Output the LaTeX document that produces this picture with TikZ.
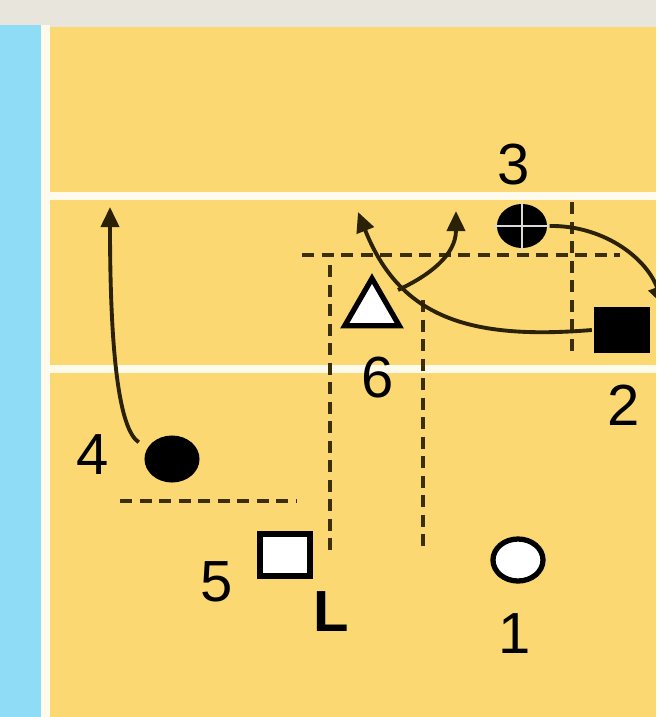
\documentclass[tikz,border=0pt]{standalone}
\usepackage{fontspec}
\setmainfont{Liberation Sans}
\usepackage{tikz}
\usetikzlibrary{arrows.meta}
\usetikzlibrary{shapes.geometric}
\definecolor{court}{HTML}{FBD872}
\definecolor{band}{HTML}{E8E6DC}
\definecolor{free}{HTML}{8FDCF7}
\definecolor{chalk}{HTML}{FFFBEC}
\definecolor{ink}{HTML}{2A2106}
\definecolor{zonecol}{HTML}{3B2F0A}

\begin{document}
\begin{tikzpicture}[x=0.01cm,y=-0.01cm,
		lbl/.style={inner sep=0pt,font=\fontsize{16.5}{18}\selectfont},
		move/.style={draw=ink,line width=1.1pt,-{Triangle[length=0.2cm,width=0.18cm]}},
		zone/.style={draw=zonecol,line width=1.4pt,dash pattern=on 0.12cm off 0.075cm},
		player/.style={inner sep=0pt,line width=1.5pt}]
			\useasboundingbox (0,0) rectangle (656,717);
			\clip (0,0) rectangle (656,717);
			\fill[band] (0,0) rectangle (656,717);
			\fill[free] (0,25) rectangle (41,717);
			\fill[chalk] (41,25) rectangle (50,717);
			\fill[court] (50,27) rectangle (656,717);
			\fill[chalk] (41,192) rectangle (656,200);
			\fill[chalk] (41,365) rectangle (656,373);

			\draw[zone] (302,255) -- (620,255);
			\draw[zone] (330,265) -- (330,557);
			\draw[zone] (423,300) -- (423,552);
			\draw[zone] (572,202) -- (572,355);
			\draw[zone] (120,501) -- (297,501);

			\node[player,ellipse,draw=black,fill=white,minimum width=0.5cm,minimum height=0.42cm] (p1) at (518,560) {};
			\node[player,rectangle,fill=black,minimum width=0.55cm,minimum height=0.46cm] (p2) at (622,330) {};
			\node[player,ellipse,fill=black,minimum width=0.5cm,minimum height=0.44cm] (p3) at (522,226) {};
			\draw[white!85!black,line width=0.7pt] (p3.north) -- (p3.south) (p3.west) -- (p3.east);
			\node[player,ellipse,fill=black,minimum width=0.55cm,minimum height=0.47cm] (p4) at (172,459) {};
			\node[player,rectangle,draw=black,fill=white,minimum width=0.5cm,minimum height=0.42cm] (p5) at (285,555) {};
			\node[player,regular polygon,regular polygon sides=3,draw=black,fill=white,minimum size=0.63cm] (p6) at (372,310) {};

			\node[lbl] (n1) at (515,634) {1};
			\node[lbl] (n2) at (624,405) {2};
			\node[lbl] (n3) at (514,165) {3};
			\node[lbl] (n4) at (93,455) {4};
			\node[lbl] (n5) at (217,582) {5};
			\node[lbl] (n6) at (378,378) {6};
			\node[lbl,font=\fontsize{16.5}{18}\selectfont\bfseries] (side) at (331,612) {L};

			\coordinate (t4) at (110,207);
			\coordinate (t2) at (358,212);
			\coordinate (t6) at (456,211);
			\coordinate (t3) at (664,306);
			\draw[move,shorten <=0.08cm] (p4.155) .. controls (120,430) and (110,360) .. (t4);
			\draw[move] (p2.west) .. controls (470,340) and (400,318) .. (t2);
			\draw[move] ([xshift=0.26cm,yshift=0.2cm]p6.center) .. controls (430,275) and (456,255) .. (t6);
			\draw[move] (p3.east) .. controls (600,225) and (645,255) .. (t3);
		\end{tikzpicture}
\end{document}
